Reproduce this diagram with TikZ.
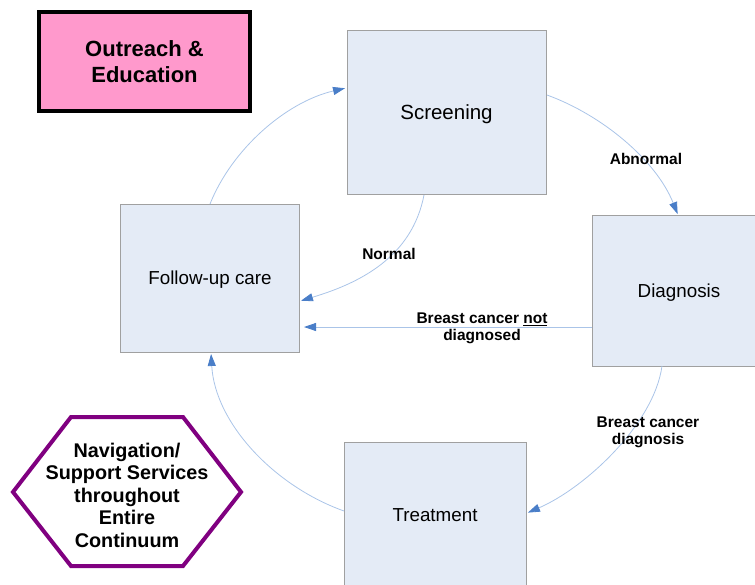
\documentclass[tikz,border=0pt]{standalone}
\usepackage{fontspec}
\setmainfont{Liberation Sans}
\usetikzlibrary{arrows.meta}
\definecolor{boxfill}{RGB}{228,235,246}
\definecolor{boxline}{RGB}{160,160,160}
\definecolor{linkline}{RGB}{170,196,232}
\definecolor{tipblue}{RGB}{74,126,200}
\definecolor{pinkfill}{RGB}{255,153,204}
\definecolor{hexpurple}{RGB}{128,0,128}
\tikzset{
  stagebox/.style={draw=boxline, fill=boxfill, line width=1pt, inner sep=0pt},
  stagetext/.style={font=\fontsize{18.8}{22}\selectfont, text=black},
  flow/.style={draw=linkline, line width=0.8pt, -{Triangle[length=12pt,width=8pt,color=tipblue]}, shorten >=1pt},
  flowlabel/.style={font=\bfseries\fontsize{15.5}{17}\selectfont, align=center, inner sep=0pt}
}
\begin{document}
\begin{tikzpicture}[x=1pt,y=-1pt]
\useasboundingbox (0,0) rectangle (755,584);
\begin{scope}
\clip (0,0) rectangle (755,584);
% boxes
\draw[stagebox] (347,30) rectangle (546,194);
\node[stagetext] (scr) at (446.5,114) {\fontsize{20.5}{24}\selectfont Screening};
\coordinate (scrE) at (547,95);
\coordinate (scrS) at (424,195);
\coordinate (scrW) at (346,88);

\draw[stagebox] (592,215) rectangle (770,366);
\node[stagetext] (dia) at (679,292.5) {Diagnosis};
\coordinate (diaN) at (678,215);
\coordinate (diaW) at (592,327);
\coordinate (diaS) at (662,366);

\draw[stagebox] (120,204) rectangle (299,352);
\node[stagetext] (fu) at (210,279.5) {Follow-up care};
\coordinate (fuN) at (210,204);
\coordinate (fuE1) at (300,301);
\coordinate (fuE2) at (303,327);
\coordinate (fuS) at (211,353);

\draw[stagebox] (344,442) rectangle (526,590);
\node[stagetext] (tr) at (435,515) {Treatment};
\coordinate (trW) at (344,511);
\coordinate (trE) at (527,513);

% outreach
\node[draw=black, line width=4pt, fill=pinkfill, minimum width=211pt, minimum height=99pt,
      align=center, font=\bfseries\fontsize{22}{25.5}\selectfont] (out) at (144.5,61.5) {Outreach \&\\Education};

% hexagon
\draw[hexpurple, line width=4pt, line join=miter] (13,492) -- (71,417) -- (183,417) -- (241,492) -- (183,566) -- (71,566) -- cycle;
\node[align=center, font=\bfseries\fontsize{19.8}{22.5}\selectfont] (nav) at (127,495)
  {Navigation/\\Support Services\\throughout\\Entire\\Continuum};

% connectors
\draw[flow] (scrE) .. controls +(55,20) and +(-22,-55) .. (diaN);
\draw[flow] (scrS) .. controls +(-12,62) and +(60,-18) .. (fuE1);
\draw[flow] (diaW) -- (fuE2);
\draw[flow] (diaS) .. controls +(-8,58) and +(58,-25) .. (trE);
\draw[flow] (trW) .. controls +(-70,-25) and +(4,70) .. (fuS);
\draw[flow] (fuN) .. controls +(22,-55) and +(-60,14) .. (scrW);

% labels
\node[flowlabel] (l1) at (646,159) {Abnormal};
\node[flowlabel] (l2) at (389,254) {Normal};
\node[flowlabel] (l3) at (482,328) {Breast cancer \underline{not}\\diagnosed};
\node[flowlabel] (l4) at (648,432) {Breast cancer\\diagnosis};
\end{scope}
\end{tikzpicture}
\end{document}
